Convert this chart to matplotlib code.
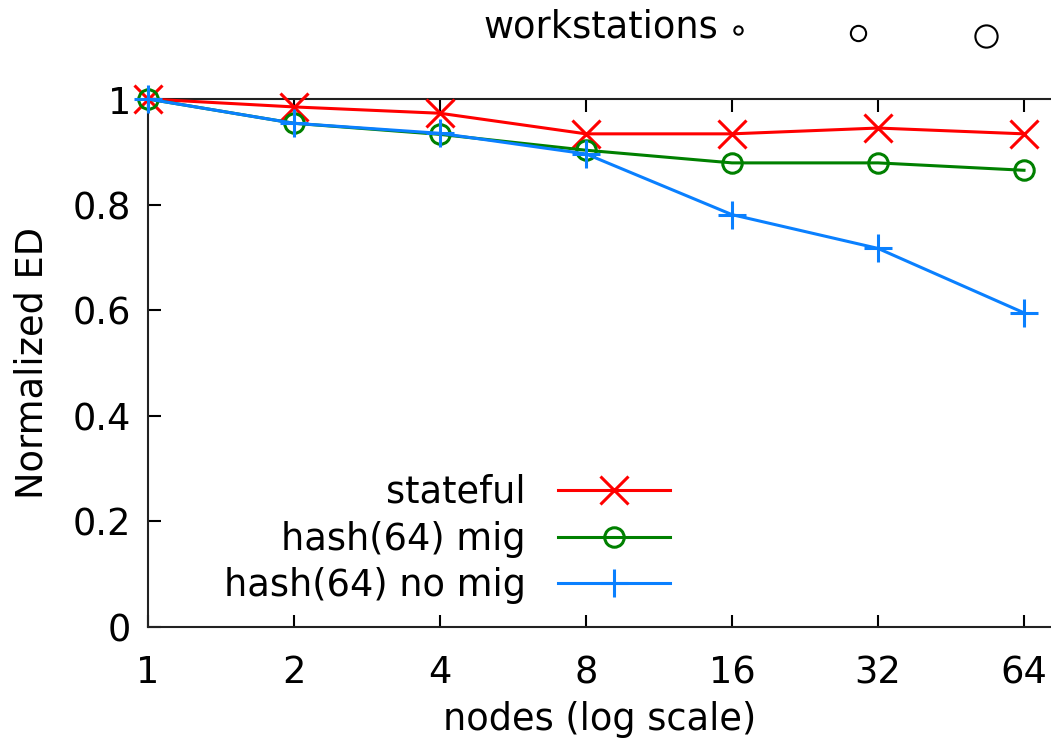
import matplotlib
matplotlib.use("Agg")
import matplotlib.pyplot as plt

nodes = [1, 2, 4, 8, 16, 32, 64]
stateful = [1.0, 0.985, 0.973, 0.934, 0.934, 0.945, 0.934]
hash_mig = [1.0, 0.954, 0.933, 0.903, 0.879, 0.879, 0.865]
hash_no_mig = [1.0, 0.954, 0.935, 0.896, 0.781, 0.717, 0.595]
yticks = [0, 0.2, 0.4, 0.6, 0.8, 1]
ytick_labels = ["0", "0.2", "0.4", "0.6", "0.8", "1"]

# workstation size key shown above the plot
ws_x = [738, 858, 986]
ws_y = [30, 33, 36]
ws_size = [6.0, 11.0, 16.0]

W, H = 1051, 742
fs = 26.5

plt.rcParams["font.family"] = "DejaVu Sans"
plt.rcParams["font.size"] = fs

fig = plt.figure(figsize=(W / 100, H / 100), dpi=100)
left, right, top, bottom = 148, W, 99, 627
ax = fig.add_axes([left / W, 1 - bottom / H, (right - left) / W, (bottom - top) / H])

ax.set_xscale("log", base=2)
ax.set_xlim(1, 2 ** ((right - left) / 146.0))
ax.set_ylim(0, 1)

lw = 2.2
ax.plot(nodes, stateful, color="#ff0000", lw=lw, marker="x", ms=19.5, mew=lw,
        label="stateful", clip_on=False, zorder=3)
ax.plot(nodes, hash_mig, color="#008000", lw=lw, marker="o", ms=14, mew=lw,
        fillstyle="none", label="hash(64) mig", clip_on=False, zorder=4)
ax.plot(nodes, hash_no_mig, color="#0a80ff", lw=lw, marker="+", ms=19.5, mew=lw,
        label="hash(64) no mig", clip_on=False, zorder=5)

ax.set_xticks(nodes)
ax.set_xticklabels([str(n) for n in nodes])
ax.xaxis.set_minor_locator(matplotlib.ticker.NullLocator())
ax.set_yticks(yticks)
ax.set_yticklabels(ytick_labels)

ax.tick_params(axis="x", direction="in", length=9, width=1.5, pad=19.5,
               top=True, bottom=True, labelsize=fs)
ax.tick_params(axis="y", direction="in", length=9, width=1.5, pad=12,
               left=True, right=False, labelsize=fs)
for side in ["left", "bottom", "top"]:
    ax.spines[side].set_linewidth(1.5)
    ax.spines[side].set_color("#222222")
ax.spines["right"].set_visible(False)

ax.set_xlabel("nodes (log scale)", fontsize=fs, labelpad=7)
ax.set_ylabel("Normalized ED", fontsize=fs, labelpad=16)

ax.legend(loc="center right", bbox_to_anchor=(670 / W, 1 - 539 / H),
          bbox_transform=fig.transFigure, frameon=False, markerfirst=False,
          handlelength=3.05, handletextpad=0.86, labelspacing=0.26,
          borderpad=0, borderaxespad=0, fontsize=fs)

fig.text(718 / W, 1 - 27 / H, "workstations", ha="right", va="center", fontsize=fs)
for x, y, s in zip(ws_x, ws_y, ws_size):
    fig.add_artist(matplotlib.lines.Line2D([x / W], [1 - y / H], marker="o", ms=s,
                                           mew=1.5, color="black", fillstyle="none",
                                           linestyle="none", transform=fig.transFigure))

fig.savefig("out.png", dpi=100)
